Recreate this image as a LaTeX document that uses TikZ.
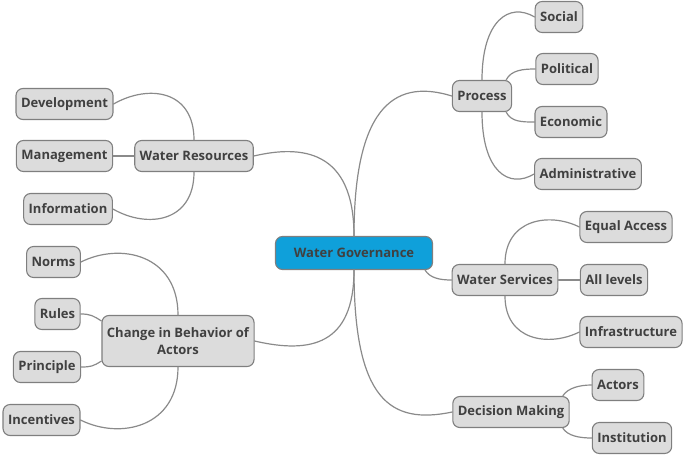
\documentclass[tikz,border=0pt]{standalone}
\usepackage{fontspec}
\setmainfont{Open Sans}
\definecolor{boxfill}{HTML}{DCDCDC}
\definecolor{boxline}{HTML}{7F7F7F}
\definecolor{linkline}{HTML}{8A8A8A}
\definecolor{textgray}{HTML}{404040}
\definecolor{rootblue}{HTML}{0FA0DA}
\begin{document}
\begin{tikzpicture}[
    x=1pt, y=-1pt,
    line join=round,
    line cap=round,
    box/.style={draw=boxline, fill=boxfill, line width=1.1pt, rounded corners=7pt,
        minimum height=31pt, inner xsep=5pt, inner ysep=2pt, text=textgray,
        font=\fontsize{13}{17}\selectfont\bfseries},
    root/.style={box, fill=rootblue, minimum width=157pt, minimum height=33pt},
    link/.style={draw=linkline, line width=1.2pt}
]
    \useasboundingbox (0,0) rectangle (685,455);

    % centre
    \node[root] (gov) at (354,253) {Water Governance};

    % main branches
    \node[box] (res) at (194,156) {Water Resources};
    \node[box, align=center, minimum height=51pt] (chg) at (178,341) {Change in Behavior of\\Actors};
    \node[box] (pro) at (482,96) {Process};
    \node[box] (ser) at (505,280) {Water Services};
    \node[box] (dec) at (511,412) {Decision Making};

    % leaves of Water Resources
    \node[box] (dev) at (64.5,104) {Development};
    \node[box] (man) at (64.5,156) {Management};
    \node[box] (inf) at (68,209) {Information};

    % leaves of Change in Behavior of Actors
    \node[box] (nor) at (53.5,262) {Norms};
    \node[box] (rul) at (57.5,314) {Rules};
    \node[box] (pri) at (47,367) {Principle};
    \node[box] (inc) at (41.5,420) {Incentives};

    % leaves of Process
    \node[box] (soc) at (559,17) {Social};
    \node[box] (pol) at (567,69) {Political};
    \node[box] (eco) at (571,122) {Economic};
    \node[box] (adm) at (588,174) {Administrative};

    % leaves of Water Services
    \node[box] (equ) at (626,227) {Equal Access};
    \node[box] (lev) at (614,280) {All levels};
    \node[box] (ist) at (631,332) {Infrastructure};

    % leaves of Decision Making
    \node[box] (act) at (618,385) {Actors};
    \node[box] (ins) at (632,438) {Institution};

    % links from the centre
    \draw[link] (gov.north) .. controls +(0,-87) and +(47,-11) .. (res.east);
    \draw[link] (gov.north) .. controls +(0,-137) and +(-52,-16) .. (pro.west);
    \draw[link] (gov.south) .. controls +(0,75) and +(56,13) .. (chg.east);
    \draw[link] (gov.south) .. controls +(0,130) and +(-62,13) .. (dec.west);
    \draw[link] ([xshift=-8pt]gov.south east) .. controls +(5,8) and +(-12,0) .. (ser.west);

    % links of Water Resources
    \draw[link] (res.north) .. controls +(0,-50) and +(35,-20) .. (dev.east);
    \draw[link] (res.west) -- (man.east);
    \draw[link] (res.south) .. controls +(0,50) and +(35,20) .. (inf.east);

    % links of Change in Behavior of Actors
    \draw[link] (chg.north) .. controls +(0,-60) and +(40,-20) .. (nor.east);
    \draw[link] ([yshift=-6pt]chg.north west) .. controls +(-8,-5) and +(10,0) .. (rul.east);
    \draw[link] ([yshift=6pt]chg.south west) .. controls +(-8,5) and +(10,0) .. (pri.east);
    \draw[link] (chg.south) .. controls +(0,60) and +(40,20) .. (inc.east);

    % links of Process
    \draw[link] (pro.north) .. controls +(0,-60) and +(-25,-15) .. (soc.west);
    \draw[link] ([xshift=-6pt]pro.north east) .. controls +(5,-10) and +(-12,0) .. (pol.west);
    \draw[link] ([xshift=-6pt]pro.south east) .. controls +(5,10) and +(-12,0) .. (eco.west);
    \draw[link] (pro.south) .. controls +(0,60) and +(-25,15) .. (adm.west);

    % links of Water Services
    \draw[link] (ser.north) .. controls +(0,-45) and +(-30,-15) .. (equ.west);
    \draw[link] (ser.east) -- (lev.west);
    \draw[link] (ser.south) .. controls +(0,45) and +(-30,15) .. (ist.west);

    % links of Decision Making
    \draw[link] ([xshift=-7pt]dec.north east) .. controls +(5,-8) and +(-12,0) .. (act.west);
    \draw[link] ([xshift=-7pt]dec.south east) .. controls +(5,8) and +(-12,0) .. (ins.west);
\end{tikzpicture}
\end{document}
